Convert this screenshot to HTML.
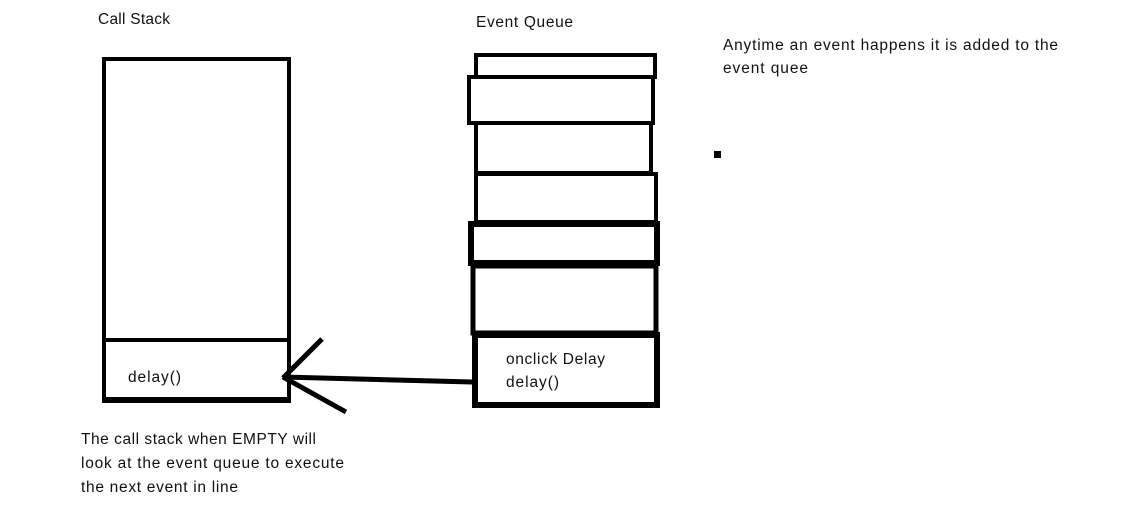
<!DOCTYPE html>
<html><head><style>
body{margin:0;width:1136px;height:526px;background:#fff;overflow:hidden}
svg text{font-family:"Liberation Sans",sans-serif;font-size:15.5px;fill:#111}
</style></head><body>
<svg width="1136" height="526" xmlns="http://www.w3.org/2000/svg">
<g fill="none" stroke="#000">
<rect x="104" y="59" width="185" height="341" stroke-width="4"/>
<line x1="102" y1="340" x2="291" y2="340" stroke-width="4"/>
<line x1="102" y1="400" x2="291" y2="400" stroke-width="6"/>
<rect x="476" y="55" width="179" height="22" stroke-width="4"/>
<rect x="469" y="77" width="184" height="46" stroke-width="4"/>
<rect x="476" y="123" width="175" height="50" stroke-width="4"/>
<rect x="476" y="174" width="180" height="48" stroke-width="4"/>
<rect x="471" y="224" width="186" height="39" stroke-width="6"/>
<rect x="473" y="266" width="183" height="67" stroke-width="5"/>
<rect x="475" y="335" width="182" height="70" stroke-width="6"/>
<line x1="472" y1="382" x2="283" y2="377" stroke-width="5"/>
<line x1="283" y1="378" x2="322" y2="339" stroke-width="5"/>
<line x1="283" y1="377" x2="346" y2="412" stroke-width="5"/>
</g>
<rect x="714" y="151" width="7" height="7" fill="#000"/>
<text x="98" y="24" textLength="72">Call Stack</text>
<text x="476" y="27" textLength="97">Event Queue</text>
<text x="723" y="50" textLength="335">Anytime an event happens it is added to the</text>
<text x="723" y="73" textLength="85">event quee</text>
<text x="128" y="382" textLength="53">delay()</text>
<text x="506" y="364" textLength="99">onclick Delay</text>
<text x="506" y="387" textLength="53">delay()</text>
<text x="81" y="444" textLength="235">The call stack when EMPTY will</text>
<text x="81" y="468" textLength="263">look at the event queue to execute</text>
<text x="81" y="492" textLength="157">the next event in line</text>
</svg>
</body></html>
